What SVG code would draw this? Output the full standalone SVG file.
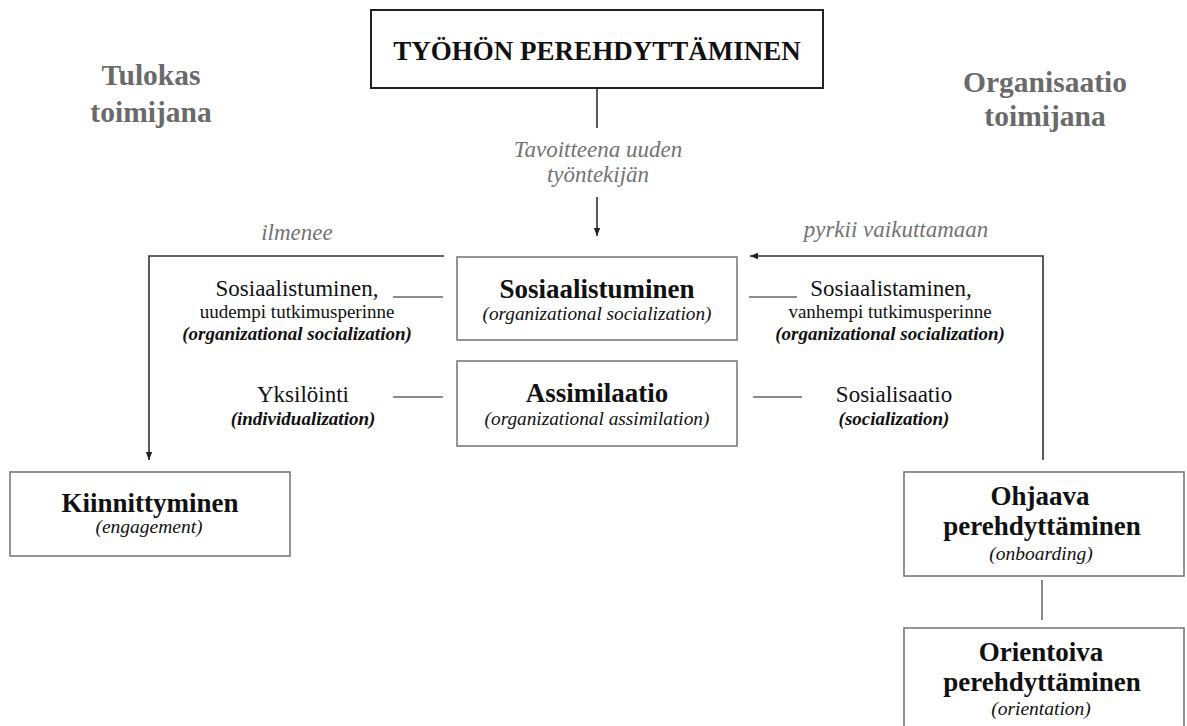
<svg xmlns="http://www.w3.org/2000/svg" width="1187" height="726" viewBox="0 0 1187 726" font-family="Liberation Serif, serif">
<style>
text{text-anchor:middle;fill:#111}
.box{fill:#fff;stroke:#7a7a7a;stroke-width:1.6}
.b{font-weight:bold}
.i{font-style:italic}
.bi{font-style:italic;font-weight:bold}
.actor{font-weight:bold;fill:#6a6a6a;font-size:29.5px}
.lbl{font-style:italic;fill:#737373;font-size:23px}
.con{fill:none;stroke:#333;stroke-width:1.6}
.dash{fill:none;stroke:#666;stroke-width:1.5}
</style>
<defs>
<marker id="ah" viewBox="0 0 10 10" refX="10" refY="5" markerWidth="8" markerHeight="8" markerUnits="userSpaceOnUse" orient="auto">
<path d="M0,1 L10,5 L0,9 z" fill="#222"/>
</marker>
</defs>
<rect width="1187" height="726" fill="#fff"/>

<g id="connectors">
<line class="con" x1="597" y1="89" x2="597" y2="128"/>
<line class="con" x1="597" y1="197" x2="597" y2="236" marker-end="url(#ah)"/>
<polyline class="con" points="444,256 149,256 149,460" marker-end="url(#ah)"/>
<polyline class="con" points="1043,460 1043,256 750,256" marker-end="url(#ah)"/>
<line class="dash" x1="393" y1="297" x2="443" y2="297"/>
<line class="dash" x1="393" y1="397" x2="443" y2="397"/>
<line class="dash" x1="749" y1="297" x2="797" y2="297"/>
<line class="dash" x1="753" y1="397" x2="802" y2="397"/>
<line class="dash" stroke="#999" x1="1042" y1="580" x2="1042" y2="620"/>
</g>

<g id="label-tavoitteena">
<text class="lbl" x="598" y="157">Tavoitteena uuden</text>
<text class="lbl" x="598" y="182">työntekijän</text>
</g>
<g id="label-ilmenee"><text class="lbl" x="297" y="240">ilmenee</text></g>
<g id="label-pyrkii"><text class="lbl" x="896" y="237">pyrkii vaikuttamaan</text></g>

<g id="actor-tulokas">
<text class="actor" x="151" y="85">Tulokas</text>
<text class="actor" x="151" y="122">toimijana</text>
</g>
<g id="actor-organisaatio">
<text class="actor" x="1045" y="92">Organisaatio</text>
<text class="actor" x="1045" y="126">toimijana</text>
</g>

<g id="node-title">
<rect x="371" y="10" width="452" height="78" fill="#fff" stroke="#222" stroke-width="2"/>
<text class="b" x="597" y="60" font-size="27">TYÖHÖN PEREHDYTTÄMINEN</text>
</g>

<g id="node-sosiaalistuminen">
<rect class="box" x="457" y="257" width="280" height="83"/>
<text class="b" x="597" y="298" font-size="27">Sosiaalistuminen</text>
<text class="i" x="597" y="320" font-size="19.3">(organizational socialization)</text>
</g>

<g id="node-assimilaatio">
<rect class="box" x="457" y="361" width="280" height="85"/>
<text class="b" x="597" y="402" font-size="27">Assimilaatio</text>
<text class="i" x="597" y="425" font-size="19.3">(organizational assimilation)</text>
</g>

<g id="text-sosiaalistuminen-left">
<text x="297" y="296" font-size="23">Sosiaalistuminen,</text>
<text x="297" y="318" font-size="19">uudempi tutkimusperinne</text>
<text class="bi" x="297" y="340" font-size="19">(organizational socialization)</text>
</g>

<g id="text-yksilointi">
<text x="303" y="402" font-size="23">Yksilöinti</text>
<text class="bi" x="303" y="425" font-size="19">(individualization)</text>
</g>

<g id="text-sosiaalistaminen-right">
<text x="891" y="296" font-size="23">Sosiaalistaminen,</text>
<text x="890" y="318" font-size="19">vanhempi tutkimusperinne</text>
<text class="bi" x="890" y="340" font-size="19">(organizational socialization)</text>
</g>

<g id="text-sosialisaatio">
<text x="894" y="402" font-size="23">Sosialisaatio</text>
<text class="bi" x="894" y="425" font-size="19">(socialization)</text>
</g>

<g id="node-kiinnittyminen">
<rect class="box" x="10" y="472" width="280" height="84"/>
<text class="b" x="150" y="512" font-size="27">Kiinnittyminen</text>
<text class="i" x="149" y="533" font-size="19.5">(engagement)</text>
</g>

<g id="node-ohjaava">
<rect class="box" x="904" y="472" width="280" height="104"/>
<text class="b" x="1040" y="505" font-size="27">Ohjaava</text>
<text class="b" x="1042" y="535" font-size="27">perehdyttäminen</text>
<text class="i" x="1041" y="560" font-size="19.5">(onboarding)</text>
</g>

<g id="node-orientoiva">
<rect class="box" x="904" y="628" width="280" height="110"/>
<text class="b" x="1041" y="661" font-size="27">Orientoiva</text>
<text class="b" x="1042" y="691" font-size="27">perehdyttäminen</text>
<text class="i" x="1041" y="715" font-size="19.5">(orientation)</text>
</g>
</svg>
